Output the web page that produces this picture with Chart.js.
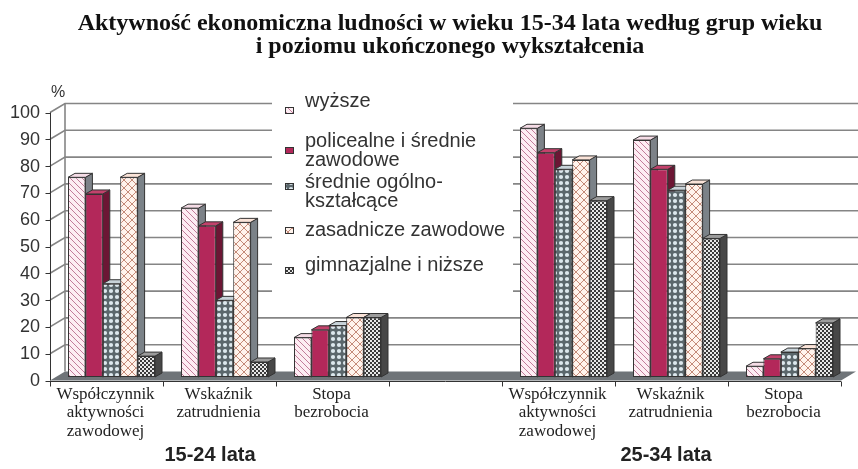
<!DOCTYPE html>
<html>
<head>
<meta charset="utf-8">
<script src="https://cdn.jsdelivr.net/npm/chart.js@4.4.0/dist/chart.umd.min.js"></script>
<style>
  body { margin: 0; background: #fff; }
  #wrap { position: relative; width: 858px; height: 469px; }
  #title { position: absolute; left: 30px; top: 11px; width: 840px; text-align: center;
           font: bold 24px 'Liberation Serif'; line-height: 23px; color: #111; }
  #pct { position: absolute; left: 51px; top: 83px; font: 16px 'Liberation Sans'; color: #333; }
  .grp { position: absolute; top: 443px; width: 140px; text-align: center;
         font: bold 20px 'Liberation Sans'; color: #222; }
</style>
</head>
<body>
<div id="wrap">
  <canvas id="chart" width="858" height="469"></canvas>
  <div id="title">Aktywność ekonomiczna ludności w wieku 15-34 lata według grup wieku<br>i poziomu ukończonego wykształcenia</div>
  <div id="pct">%</div>
  <div class="grp" style="left:140px">15-24 lata</div>
  <div class="grp" style="left:596px">25-34 lata</div>
</div>
<script>
// kategorie (pusta kolumna rozdziela grupy wieku)
var categories = [
  ["Współczynnik", "aktywności", "zawodowej"],
  ["Wskaźnik", "zatrudnienia"],
  ["Stopa", "bezrobocia"],
  "",
  ["Współczynnik", "aktywności", "zawodowej"],
  ["Wskaźnik", "zatrudnienia"],
  ["Stopa", "bezrobocia"]
];

var seriesNames = ["wyższe", "policealne i średnie zawodowe", "średnie ogólno-kształcące",
                   "zasadnicze zawodowe", "gimnazjalne i niższe"];

var wyzsze       = [74.5, 63.0, 14.7, null, 92.8, 88.4, 4.0];
var policealne   = [68.3, 56.4, 17.6, null, 83.7, 77.5, 6.8];
var sredOgolne   = [34.8, 28.6, 19.2, null, 77.5, 69.7, 9.3];
var zasadnicze   = [74.5, 57.7, 22.2, null, 81.0, 72.0, 10.6];
var gimnazjalne  = [7.8, 5.6, 22.2, null, 65.8, 51.7, 20.2];

var yTicks = [0, 10, 20, 30, 40, 50, 60, 70, 80, 90, 100];

// wzory wypełnień
function makePattern(size, draw) {
  var c = document.createElement("canvas");
  c.width = size; c.height = size;
  var g = c.getContext("2d");
  draw(g, size);
  return document.getElementById("chart").getContext("2d").createPattern(c, "repeat");
}

var patDiag = makePattern(6, function (g, s) {
  g.fillStyle = "#fdedf3"; g.fillRect(0, 0, s, s);
  g.strokeStyle = "#c27c9a"; g.lineWidth = 1;
  g.beginPath();
  g.moveTo(0, 0); g.lineTo(s, s);
  g.moveTo(-1, s - 1); g.lineTo(1, s + 1);
  g.moveTo(s - 1, -1); g.lineTo(s + 1, 1);
  g.stroke();
});
var patDots = makePattern(6, function (g, s) {
  g.fillStyle = "#5b676c"; g.fillRect(0, 0, s, s);
  g.fillStyle = "#dde8ee";
  g.beginPath(); g.arc(3, 3, 2.1, 0, Math.PI * 2); g.fill();
});
var patCross = makePattern(8, function (g, s) {
  g.fillStyle = "#fff3ec"; g.fillRect(0, 0, s, s);
  g.strokeStyle = "#c48a78"; g.lineWidth = 1;
  g.beginPath();
  g.moveTo(0, 0); g.lineTo(s, s);
  g.moveTo(s, 0); g.lineTo(0, s);
  g.stroke();
});
var patCheck = makePattern(4, function (g, s) {
  g.fillStyle = "#e8e8e8"; g.fillRect(0, 0, s, s);
  g.fillStyle = "#3a3a3a";
  g.fillRect(0, 0, 2, 2); g.fillRect(2, 2, 2, 2);
});

var fronts = [patDiag, "#b3285a", patDots, patCross, patCheck];
var sides = ["#7d8288", "#6c1634", "#596267", "#7b8288", "#474747"];
var tops = ["#f5dce6", "#c3426c", "#c8d3d9", "#fae3d8", "#9c9c9c"];

// przesunięcia perspektywy (pseudo-3D)
var FRONT = { dx: -5, dy: 3.5 };
var BACK = { dx: 10, dy: -5.5 };
var DEPTH = { dx: 7, dy: -4 };

var legendItems = [
  { lines: ["wyższe"], ty: [101], my: 110 },
  { lines: ["policealne i średnie", "zawodowe"], ty: [141, 160], my: 150 },
  { lines: ["średnie ogólno-", "kształcące"], ty: [182, 201], my: 186 },
  { lines: ["zasadnicze zawodowe"], ty: [230], my: 230 },
  { lines: ["gimnazjalne i niższe"], ty: [265], my: 270 }
];

var scene3d = {
  id: "scene3d",
  beforeDatasetsDraw: function (chart) {
    var ctx = chart.ctx, a = chart.chartArea, ys = chart.scales.y;
    ctx.save();
    // ściana tylna: linie siatki
    ctx.strokeStyle = "#858585"; ctx.lineWidth = 1.6;
    yTicks.forEach(function (v) {
      if (v === 0) return;
      var p = ys.getPixelForValue(v);
      ctx.beginPath();
      ctx.moveTo(a.left + FRONT.dx, p + FRONT.dy);
      ctx.lineTo(a.left + BACK.dx, p + BACK.dy);
      ctx.lineTo(chart.width, p + BACK.dy);
      ctx.stroke();
    });
    var p0 = ys.getPixelForValue(0), p100 = ys.getPixelForValue(100);
    ctx.beginPath();
    ctx.moveTo(a.left + BACK.dx, p100 + BACK.dy);
    ctx.lineTo(a.left + BACK.dx, p0 + BACK.dy);
    ctx.stroke();
    // podłoga
    ctx.fillStyle = "#6f7478";
    ctx.beginPath();
    ctx.moveTo(a.left + FRONT.dx, p0 + FRONT.dy);
    ctx.lineTo(a.right + FRONT.dx, p0 + FRONT.dy);
    ctx.lineTo(a.right + BACK.dx, p0 + BACK.dy);
    ctx.lineTo(a.left + BACK.dx, p0 + BACK.dy);
    ctx.closePath(); ctx.fill();
    // legenda
    ctx.fillStyle = "#fff";
    ctx.fillRect(272, 94, 241, 206);
    ctx.font = "20px 'Liberation Sans'";
    ctx.textBaseline = "middle";
    legendItems.forEach(function (it, i) {
      ctx.fillStyle = fronts[i];
      ctx.fillRect(285, it.my - 3, 8, 6);
      ctx.strokeStyle = "#333"; ctx.lineWidth = 1;
      ctx.strokeRect(285.5, it.my - 2.5, 8, 6);
      ctx.fillStyle = "#333";
      it.lines.forEach(function (t, k) { ctx.fillText(t, 305, it.ty[k]); });
    });
    // boki i wierzchy słupków
    chart.data.datasets.forEach(function (ds, i) {
      chart.getDatasetMeta(i).data.forEach(function (el, j) {
        if (ds.data[j] === null) return;
        var pr = el.getProps(["x", "y", "base", "width"], true);
        var l = pr.x - pr.width / 2, r = pr.x + pr.width / 2;
        ctx.lineWidth = 1; ctx.strokeStyle = "#333";
        ctx.fillStyle = sides[i];
        ctx.beginPath();
        ctx.moveTo(r, pr.y); ctx.lineTo(r + DEPTH.dx, pr.y + DEPTH.dy);
        ctx.lineTo(r + DEPTH.dx, pr.base + DEPTH.dy); ctx.lineTo(r, pr.base);
        ctx.closePath(); ctx.fill(); ctx.stroke();
        ctx.fillStyle = tops[i];
        ctx.beginPath();
        ctx.moveTo(l, pr.y); ctx.lineTo(l + DEPTH.dx, pr.y + DEPTH.dy);
        ctx.lineTo(r + DEPTH.dx, pr.y + DEPTH.dy); ctx.lineTo(r, pr.y);
        ctx.closePath(); ctx.fill(); ctx.stroke();
      });
    });
    ctx.restore();
  },
  afterDraw: function (chart) {
    var ctx = chart.ctx, a = chart.chartArea, ys = chart.scales.y;
    var p0 = ys.getPixelForValue(0), p100 = ys.getPixelForValue(100);
    ctx.save();
    ctx.strokeStyle = "#333"; ctx.lineWidth = 1;
    // oś pionowa z przodu
    var xf = a.left + FRONT.dx + 0.5;
    ctx.beginPath();
    ctx.moveTo(xf, p100 + FRONT.dy); ctx.lineTo(xf, p0 + FRONT.dy);
    yTicks.forEach(function (v) {
      var p = Math.round(ys.getPixelForValue(v) + FRONT.dy) + 0.5;
      ctx.moveTo(xf - 5, p); ctx.lineTo(xf, p);
    });
    // oś pozioma z przodu
    var yb = Math.round(p0 + FRONT.dy) + 0.5;
    ctx.moveTo(a.left + FRONT.dx, yb); ctx.lineTo(a.right + FRONT.dx, yb);
    var cw = (a.right - a.left) / categories.length;
    for (var k = 0; k <= categories.length; k++) {
      var x = Math.round(a.left + FRONT.dx + k * cw) + 0.5;
      ctx.moveTo(x, yb); ctx.lineTo(x, yb + 5);
    }
    ctx.stroke();
    ctx.restore();
  }
};

var datasets = [wyzsze, policealne, sredOgolne, zasadnicze, gimnazjalne].map(function (vals, i) {
  return {
    label: seriesNames[i],
    data: vals,
    backgroundColor: fronts[i],
    borderColor: "#333",
    borderWidth: 1,
    borderSkipped: false,
    barPercentage: 1,
    categoryPercentage: 0.77
  };
});

new Chart(document.getElementById("chart"), {
  type: "bar",
  data: { labels: categories, datasets: datasets },
  plugins: [scene3d],
  options: {
    responsive: false,
    animation: false,
    devicePixelRatio: 1,
    layout: { padding: { top: 109, right: 12, left: 0, bottom: 0 } },
    plugins: { legend: { display: false }, tooltip: { enabled: false } },
    scales: {
      x: {
        grid: { display: false, drawTicks: false },
        border: { display: false },
        afterFit: function (s) { s.height = 92; },
        ticks: {
          color: "#222",
          padding: 8,
          labelOffset: -6,
          maxRotation: 0,
          autoSkip: false,
          font: { family: "'Liberation Serif'", size: 17, lineHeight: "18.5px" }
        }
      },
      y: {
        min: 0, max: 100,
        grid: { display: false, drawTicks: false },
        border: { display: false },
        afterFit: function (s) { s.width = 55; },
        ticks: {
          stepSize: 10,
          color: "#333",
          padding: 15,
          labelOffset: 4,
          font: { family: "'Liberation Sans'", size: 18 }
        }
      }
    }
  }
});
</script>
</body>
</html>
